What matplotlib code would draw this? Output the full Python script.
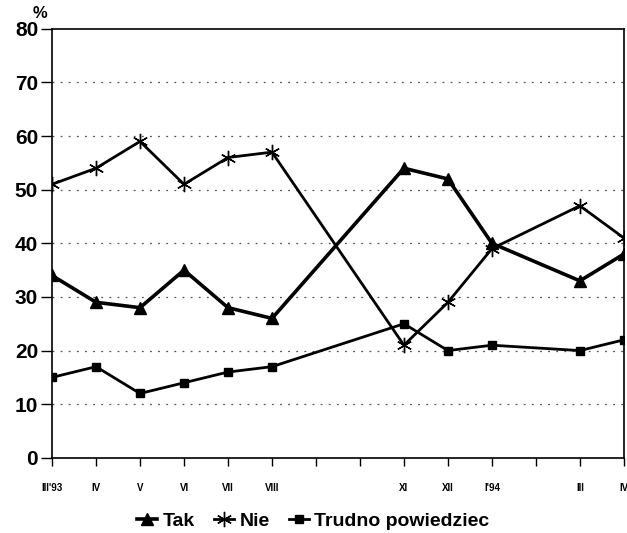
import matplotlib
matplotlib.use("Agg")
import matplotlib.pyplot as plt

plt.rcParams['font.family'] = ['Liberation Sans', 'DejaVu Sans']
plt.rcParams['font.weight'] = 'bold'

# month slots (IX, X, II missing in survey)
labels = ["III'93", "IV", "V", "VI", "VII", "VIII", "", "", "XI", "XII", "I'94", "", "III", "IV"]
pos = [0, 1, 2, 3, 4, 5, 8, 9, 10, 12, 13]
tak = [34, 29, 28, 35, 28, 26, 54, 52, 40, 33, 38]
nie = [51, 54, 59, 51, 56, 57, 21, 29, 39, 47, 41]
trudno = [15, 17, 12, 14, 16, 17, 25, 20, 21, 20, 22]

fig = plt.figure(figsize=(6.27, 5.33), dpi=100)
ax = fig.add_axes([0.083, 0.141, 0.912, 0.805])

ax.plot(pos, tak, color='black', lw=2.6, marker='^', ms=8, label='Tak')
ax.plot(pos, nie, color='black', lw=2.0, marker=(6, 2, 0), ms=11, mew=1.0, label='Nie')
ax.plot(pos, trudno, color='black', lw=2.0, marker='s', ms=6, label='Trudno powiedziec')

ax.set_xlim(0, 13)
ax.set_ylim(0, 80)
ax.set_xticks(range(14))
ax.set_xticklabels(labels, fontsize=7, fontweight='bold')
ax.set_yticks(range(0, 81, 10))
ax.tick_params(axis='y', labelsize=15, length=8, width=1, pad=2)
ax.tick_params(axis='x', length=6, width=1, pad=12)
for y in range(10, 80, 10):
    ax.axhline(y, color='#555555', lw=0.9, ls=(0, (1.5, 5)), zorder=0)
for s in ax.spines.values():
    s.set_linewidth(1.2)
ax.text(-0.45, 82.8, '%', fontsize=12, fontweight='bold', ha='left', va='center',
        clip_on=False)

fig.legend(loc='center', bbox_to_anchor=(0.5, 0.022), ncol=3, frameon=False,
           handlelength=1.0, handletextpad=0.3, columnspacing=1.0,
           prop={'weight': 'bold', 'size': 14})
fig.savefig('out.png', dpi=100)
